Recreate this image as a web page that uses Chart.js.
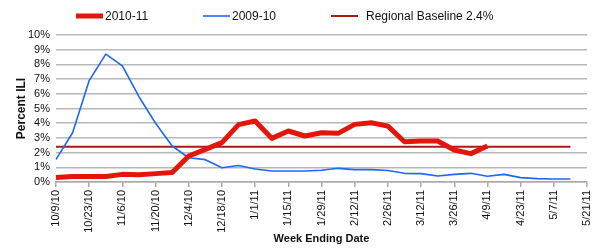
<!DOCTYPE html>
<html>
<head>
<meta charset="utf-8">
<script src="https://cdn.jsdelivr.net/npm/chart.js@4/dist/chart.umd.min.js"></script>
<style>
  html, body { margin: 0; padding: 0; background: #fff; }
  #wrap { width: 600px; height: 250px; }
</style>
</head>
<body>
<div id="wrap"><canvas id="ili-chart"></canvas></div>
<script>
const weeks = ['10/9/10', '10/16/10', '10/23/10', '10/30/10', '11/6/10', '11/13/10', '11/20/10', '11/27/10',
  '12/4/10', '12/11/10', '12/18/10', '12/25/10', '1/1/11', '1/8/11', '1/15/11', '1/22/11', '1/29/11',
  '2/5/11', '2/12/11', '2/19/11', '2/26/11', '3/5/11', '3/12/11', '3/19/11', '3/26/11', '4/2/11',
  '4/9/11', '4/16/11', '4/23/11', '4/30/11', '5/7/11', '5/14/11', '5/21/11']

// percent ILI, 2010-11 season (reported through 4/9/11)
const season2010 = [0.3, 0.38, 0.38, 0.38, 0.52, 0.5, 0.57, 0.64, 1.77, 2.22, 2.68, 3.9, 4.15, 2.97,
  3.47, 3.13, 3.35, 3.31, 3.92, 4.03, 3.8, 2.74, 2.79, 2.79, 2.18, 1.93, 2.45]

// percent ILI, 2009-10 season
const season2009 = [1.54, 3.35, 6.9, 8.7, 7.9, 5.8, 4.0, 2.45, 1.65, 1.52, 0.97, 1.12, 0.88, 0.75,
  0.75, 0.75, 0.8, 0.93, 0.84, 0.84, 0.78, 0.59, 0.57, 0.41, 0.52, 0.59, 0.39, 0.52, 0.3, 0.23, 0.2, 0.2]

const baseline = [2.4, 2.4, 2.4, 2.4, 2.4, 2.4, 2.4, 2.4, 2.4, 2.4, 2.4, 2.4, 2.4, 2.4, 2.4, 2.4,
  2.4, 2.4, 2.4, 2.4, 2.4, 2.4, 2.4, 2.4, 2.4, 2.4, 2.4, 2.4, 2.4, 2.4, 2.4, 2.4]

const seriesNames = ['2010-11', '2009-10', 'Regional Baseline 2.4%']

const font = 'Liberation Sans, Arial, sans-serif'
Chart.defaults.font.family = font
Chart.defaults.color = '#222'

// legend spread across the top like the original, drawn by hand
const legendSlots = [76, 203, 331]
const wideLegend = {
  id: 'wideLegend',
  afterDraw (chart) {
    const ctx = chart.ctx
    ctx.save()
    chart.data.datasets.forEach((ds, i) => {
      const x = legendSlots[i]
      ctx.strokeStyle = ds.borderColor
      ctx.lineWidth = ds.borderWidth
      ctx.beginPath()
      ctx.moveTo(x, 16)
      ctx.lineTo(x + 27, 16)
      ctx.stroke()
      ctx.fillStyle = '#111'
      ctx.font = '12px ' + font
      ctx.textBaseline = 'middle'
      ctx.fillText(ds.label, x + (i === 2 ? 35 : 29), 16.5)
    })
    ctx.restore()
  }
}

const data = {
  labels: weeks,
  datasets: [{
    label: seriesNames[0],
    data: season2010,
    borderColor: 'rgb(228, 22, 12)',
    backgroundColor: 'rgb(228, 22, 12)',
    borderWidth: 5
  }, {
    label: seriesNames[1],
    data: season2009,
    borderColor: 'rgb(30, 104, 240)',
    backgroundColor: 'rgb(30, 104, 240)',
    borderWidth: 1.6
  }, {
    label: seriesNames[2],
    data: baseline,
    borderColor: 'rgb(165, 28, 18)',
    backgroundColor: 'rgb(165, 28, 18)',
    borderWidth: 2
  }]
}

const config = {
  type: 'line',
  data: data,
  plugins: [wideLegend],
  options: {
    responsive: false,
    animation: false,
    maintainAspectRatio: false,
    layout: { padding: { left: 0, right: 0, top: 35, bottom: 4 } },
    elements: {
      point: { radius: 0 },
      line: { tension: 0, borderJoinStyle: 'round', borderCapStyle: 'butt' }
    },
    plugins: {
      tooltip: { enabled: false },
      legend: { display: false }
    },
    scales: {
      x: {
        type: 'category',
        offset: false,
        border: { color: '#aaa', width: 1.5 },
        grid: {
          drawOnChartArea: false,
          tickLength: 5,
          color: (ctx) => (ctx.index % 2 === 0 ? '#aaa' : 'rgba(0,0,0,0)'),
          lineWidth: 1.5
        },
        ticks: {
          autoSkip: false,
          maxRotation: 90,
          minRotation: 90,
          padding: 3,
          font: { size: 11 },
          color: '#111',
          callback: (value, index) => (index % 2 === 0 ? weeks[index] : '')
        },
        title: {
          display: true,
          text: 'Week Ending Date',
          font: { size: 11, weight: 'bold' },
          color: '#111',
          padding: { top: 2, bottom: 0 }
        },
        afterFit: (scale) => {
          scale.height = 64
          scale.paddingRight = 13
          scale.paddingLeft = 0
        }
      },
      y: {
        min: 0,
        max: 10,
        border: { display: false },
        grid: { color: '#b8b8b8', lineWidth: 1.5, drawTicks: false },
        ticks: {
          stepSize: 1,
          autoSkip: false,
          padding: 6,
          font: { size: 11 },
          color: '#111',
          callback: (value) => value + '%'
        },
        title: {
          display: true,
          text: 'Percent ILI',
          font: { size: 12, weight: 'bold' },
          color: '#111',
          padding: { top: 14, bottom: 6 }
        },
        afterFit: (scale) => { scale.width = 56 }
      }
    }
  }
}

const canvas = document.querySelector('#ili-chart')
canvas.width = 600
canvas.height = 250
const iliChart = new Chart(canvas, config)
</script>
</body>
</html>
